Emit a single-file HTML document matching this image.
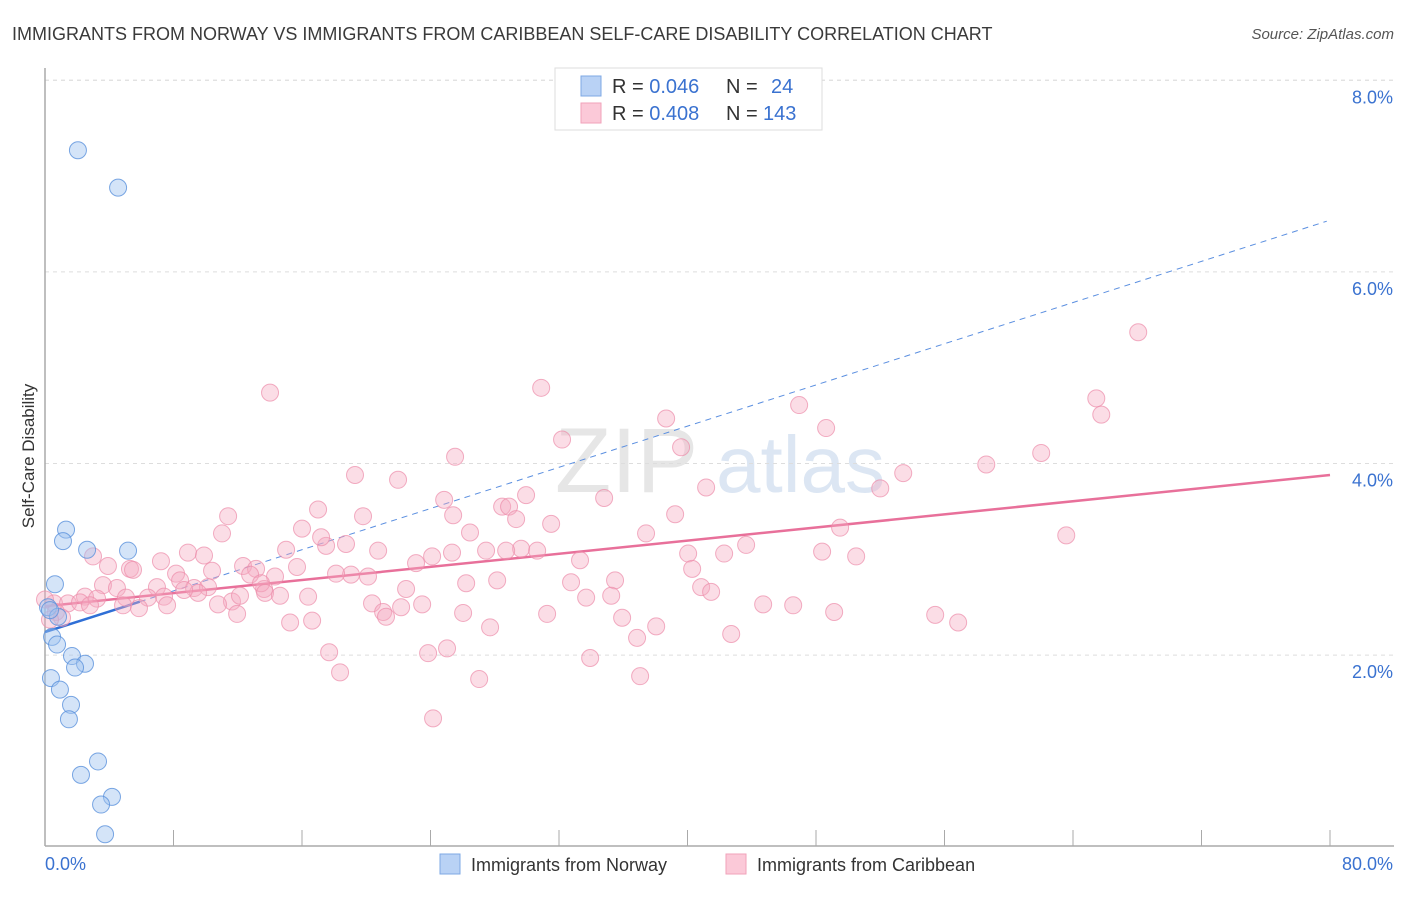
<!DOCTYPE html>
<html><head><meta charset="utf-8"><style>
body{margin:0;background:#fff;font-family:"Liberation Sans",sans-serif;}
svg text{font-family:"Liberation Sans",sans-serif;}
</style></head><body>
<svg id="chart" width="1406" height="892" xmlns="http://www.w3.org/2000/svg">
<text x="12" y="40" font-size="18" fill="#3a3a3a">IMMIGRANTS FROM NORWAY VS IMMIGRANTS FROM CARIBBEAN SELF-CARE DISABILITY CORRELATION CHART</text>
<text x="1394" y="39" font-size="15" fill="#555" text-anchor="end" font-style="italic">Source: ZipAtlas.com</text>
<text x="555" y="492" font-size="92" fill="#e6e6e6" font-family="Liberation Serif">ZIP</text>
<text x="716" y="492" font-size="80" fill="#dce6f3">atlas</text>
<g id="grid"></g>
<g id="axes"></g>
<g id="lines"></g>
<g id="pts"></g>
<text transform="translate(34,456) rotate(-90)" font-size="17" fill="#333" text-anchor="middle">Self-Care Disability</text>
<g>
<rect x="555" y="68" width="267" height="62" fill="#fff" stroke="#ddd"/>
<rect x="581" y="76" width="20" height="20" fill="#b9d2f5" stroke="#7ea8e4"/>
<rect x="581" y="103" width="20" height="20" fill="#fbc9d8" stroke="#f0a2ba"/>
<text x="612" y="93" font-size="20" fill="#333">R = <tspan fill="#3a72d0">0.046</tspan><tspan x="726">N = </tspan><tspan x="771" fill="#3a72d0">24</tspan></text>
<text x="612" y="120" font-size="20" fill="#333">R = <tspan fill="#3a72d0">0.408</tspan><tspan x="726">N = </tspan><tspan x="763" fill="#3a72d0">143</tspan></text>
</g>
<g>
<rect x="440" y="854" width="20" height="20" fill="#b9d2f5" stroke="#7ea8e4"/>
<text x="471" y="871" font-size="18" fill="#333">Immigrants from Norway</text>
<rect x="726" y="854" width="20" height="20" fill="#fbc9d8" stroke="#f0a2ba"/>
<text x="757" y="871" font-size="18" fill="#333">Immigrants from Caribbean</text>
</g>
</svg>
<script>
const yTicks=[2,4,6,8];
const yTickLabels=["2.0%","4.0%","6.0%","8.0%"];
const xTickCount=10;
const norwayX=[2.05,4.55,1.31,1.12,2.62,5.17,0.62,0.19,0.81,0.44,0.75,1.68,2.49,1.87,0.37,0.93,1.62,1.49,3.30,2.24,4.17,3.49,3.74,0.31];
const norwayY=[7.27,6.88,3.31,3.19,3.10,3.09,2.74,2.50,2.40,2.19,2.11,1.99,1.91,1.87,1.76,1.64,1.48,1.33,0.89,0.75,0.52,0.44,0.13,2.47];
const caribX=[14.01,30.89,68.06,65.45,65.76,46.95,48.63,38.67,32.19,39.60,25.53,19.30,21.98,53.43,58.60,62.02,52.00,41.16,24.85,34.81,29.95,11.40,17.00,19.80,28.46,28.89,29.33,25.41,39.23,31.51,16.00,26.46,11.02,17.50,17.19,18.74,63.58,49.50,37.42,43.65,20.74,27.46,29.64,30.64,28.71,24.10,25.34,15.01,8.90,9.90,2.99,7.22,40.04,42.28,48.38,50.50,12.33,13.14,15.69,23.10,3.92,5.29,5.48,33.31,40.29,8.16,10.40,12.77,14.32,19.05,20.11,18.12,26.22,28.15,32.75,35.49,8.41,3.61,4.48,6.97,9.28,10.15,13.64,13.45,22.48,40.85,41.47,2.49,3.24,5.04,6.41,7.41,9.53,8.66,11.64,12.14,13.70,14.63,16.38,20.36,23.48,33.69,35.25,0.56,1.43,2.18,2.80,4.86,5.85,7.60,10.77,22.17,21.05,21.23,11.96,26.03,31.26,35.93,44.71,46.58,49.13,55.42,56.85,15.26,16.63,27.71,38.05,36.86,42.72,17.69,23.85,25.03,33.94,18.37,27.03,37.05,24.16,0.68,1.06,0.0,0.31];
const caribY=[4.74,4.79,5.37,4.68,4.51,4.61,4.37,4.47,4.25,4.17,4.07,3.88,3.83,3.90,3.99,4.11,3.74,3.75,3.62,3.64,3.67,3.45,3.52,3.45,3.55,3.55,3.42,3.46,3.47,3.37,3.32,3.28,3.27,3.14,3.23,3.16,3.25,3.33,3.27,3.15,3.09,3.09,3.11,3.09,3.09,3.03,3.07,3.10,3.07,3.04,3.03,2.98,3.06,3.06,3.08,3.03,2.93,2.90,2.92,2.96,2.93,2.90,2.89,2.99,2.90,2.85,2.88,2.84,2.82,2.84,2.82,2.85,2.75,2.78,2.76,2.78,2.78,2.73,2.70,2.71,2.70,2.71,2.69,2.75,2.69,2.71,2.66,2.61,2.59,2.60,2.60,2.61,2.65,2.68,2.56,2.62,2.65,2.62,2.61,2.54,2.53,2.60,2.62,2.54,2.54,2.55,2.52,2.52,2.49,2.52,2.53,2.50,2.45,2.40,2.43,2.44,2.43,2.39,2.53,2.52,2.45,2.42,2.34,2.34,2.36,2.29,2.30,2.18,2.22,2.03,2.02,2.07,1.97,1.82,1.75,1.78,1.34,2.45,2.39,2.58,2.37];
const norwayTrend=[2.24,6.54];   // value at x=0 and x=80
const norwaySolidEnd=5.9;
const caribTrend=[2.51,3.88];
const NS="http://www.w3.org/2000/svg";
const X0=45,X1=1330,Y0=846.7,YPX=95.8;
const sx=v=>X0+(X1-X0)*v/80, sy=v=>Y0-v*YPX;
function mk(tag,attrs,parent){const e=document.createElementNS(NS,tag);for(const k in attrs)e.setAttribute(k,attrs[k]);parent.appendChild(e);return e;}
const grid=document.getElementById('grid'),axes=document.getElementById('axes'),lines=document.getElementById('lines'),pts=document.getElementById('pts');
yTicks.forEach((t,i)=>{
 const l=mk('line',{x1:X0,x2:1394,y1:sy(t),y2:sy(t),stroke:'#ddd','stroke-dasharray':'4,4'},grid);
 
 
 const tx=mk('text',{x:1393,y:sy(t)+23,'font-size':18,fill:'#3a72d0','text-anchor':'end'},grid);
 tx.textContent=yTickLabels[i];
 
 
});
const gt=mk('line',{x1:X0,x2:1394,y1:sy(8),y2:sy(8),stroke:'#ddd','stroke-dasharray':'4,4'},grid);


const ya=mk('line',{x1:X0,x2:X0,y1:68,y2:846,stroke:'#aaa','stroke-width':1.5},axes);


const xa=mk('line',{x1:X0,x2:1394,y1:846,y2:846,stroke:'#aaa','stroke-width':1.5},axes);


for(let i=1;i<=xTickCount;i++){
 const v=80*i/xTickCount;
 const tk=mk('line',{x1:sx(v),x2:sx(v),y1:830,y2:846,stroke:'#aaa'},axes);
 
 
}
const xl0=mk('text',{x:45,y:870,'font-size':18,fill:'#3a72d0'},axes);xl0.textContent='0.0%';


const xl1=mk('text',{x:1393,y:870,'font-size':18,fill:'#3a72d0','text-anchor':'end'},axes);xl1.textContent='80.0%';


caribX.forEach((x,i)=>{
 const c=mk('circle',{cx:sx(x),cy:sy(caribY[i]),r:8.5,fill:'rgba(246,170,192,0.4)',stroke:'rgba(236,140,170,0.7)','stroke-width':1},pts);
 
 
});
norwayX.forEach((x,i)=>{
 const c=mk('circle',{cx:sx(x),cy:sy(norwayY[i]),r:8.5,fill:'rgba(160,196,240,0.45)',stroke:'rgba(90,145,220,0.8)','stroke-width':1},pts);
 
 
});
const nAt=v=>norwayTrend[0]+(norwayTrend[1]-norwayTrend[0])*v/80;
const nd=mk('line',{x1:sx(norwaySolidEnd),y1:sy(nAt(norwaySolidEnd)),x2:sx(79.8),y2:sy(nAt(79.8)),stroke:'#5b8fe0','stroke-width':1,'stroke-dasharray':'6,5'},lines);


const cl=mk('line',{x1:sx(0),y1:sy(caribTrend[0]),x2:sx(80),y2:sy(caribTrend[1]),stroke:'#e8709a','stroke-width':2.5},lines);


const ns=mk('line',{x1:sx(0),y1:sy(nAt(0)),x2:sx(norwaySolidEnd),y2:sy(nAt(norwaySolidEnd)),stroke:'#2f6fd6','stroke-width':2.5},lines);


</script>
</body></html>
